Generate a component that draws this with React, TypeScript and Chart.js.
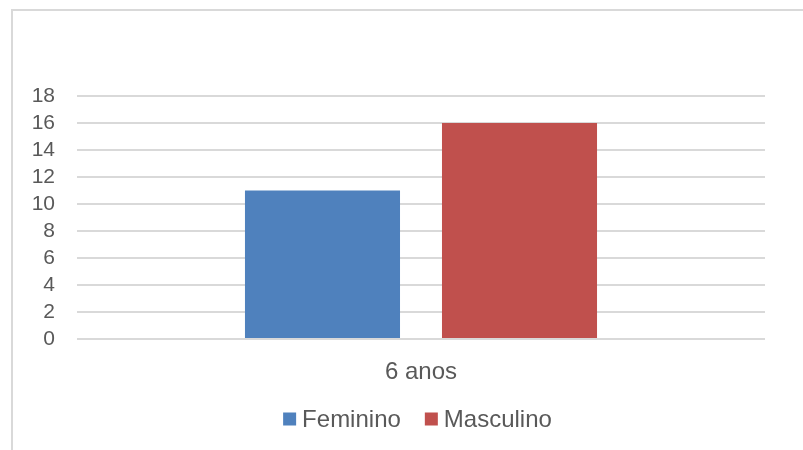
import React, { useEffect, useRef } from "react";
import { Chart, registerables } from "chart.js";

Chart.register(...registerables);

const categories: string[] = ["6 anos"];
const seriesNames: string[] = ["Feminino", "Masculino"];
const femininoValues: number[] = [11];
const masculinoValues: number[] = [16];
const seriesColors: string[] = ["#4F81BD", "#C0504D"];
const yTickMin = 0;
const yTickMax = 18;
const yTickStep = 2;

const FONT = "'Liberation Sans', Arial, sans-serif";
const TEXT_COLOR = "#595959";
const GRID_COLOR = "#D9D9D9";

const legendPlugin = {
  id: "customLegend",
  afterDraw(chart: any) {
    const ctx = chart.ctx as CanvasRenderingContext2D;
    const size = 24;
    const box = 13;
    const gapBoxText = 6;
    const gapItems = 24;
    ctx.save();
    ctx.font = `${size}px ${FONT}`;
    ctx.textBaseline = "middle";
    ctx.textAlign = "left";
    const items = chart.data.datasets.map((ds: any) => ({
      label: ds.label as string,
      color: ds.backgroundColor as string,
      w: ctx.measureText(ds.label).width,
    }));
    const total =
      items.reduce((s: number, it: any) => s + box + gapBoxText + it.w, 0) +
      gapItems * (items.length - 1);
    const cx = 417.5;
    const cy = 419;
    let x = cx - total / 2;
    for (const it of items) {
      ctx.fillStyle = it.color;
      ctx.fillRect(x, cy - box / 2, box, box);
      x += box + gapBoxText;
      ctx.fillStyle = TEXT_COLOR;
      ctx.fillText(it.label, x, cy + 1);
      x += it.w + gapItems;
    }
    ctx.restore();
  },
};

export default function App() {
  const canvasRef = useRef<HTMLCanvasElement | null>(null);

  useEffect(() => {
    if (!canvasRef.current) return;
    const chart = new Chart(canvasRef.current, {
      type: "bar",
      data: {
        labels: categories,
        datasets: [
          {
            label: seriesNames[0],
            data: femininoValues,
            backgroundColor: seriesColors[0],
            borderWidth: 0,
          },
          {
            label: seriesNames[1],
            data: masculinoValues,
            backgroundColor: seriesColors[1],
            borderWidth: 0,
          },
        ],
      },
      options: {
        responsive: false,
        animation: false,
        maintainAspectRatio: false,
        categoryPercentage: 0.5727,
        barPercentage: 0.787,
        layout: { padding: { left: 0, top: 96, right: 38, bottom: 0 } },
        plugins: {
          legend: { display: false },
          tooltip: { enabled: false },
          title: { display: false },
        },
        scales: {
          x: {
            grid: { display: false },
            border: { display: false },
            ticks: {
              color: TEXT_COLOR,
              font: { family: FONT, size: 24 },
              padding: 11,
            },
            afterFit(scale: any) {
              scale.height = 111;
            },
          },
          y: {
            min: yTickMin,
            max: yTickMax,
            grid: { color: GRID_COLOR, lineWidth: 2, drawTicks: false },
            border: { display: false },
            ticks: {
              stepSize: yTickStep,
              autoSkip: false,
              color: TEXT_COLOR,
              font: { family: FONT, size: 21, lineHeight: 1 },
              padding: 22,
            },
            afterFit(scale: any) {
              scale.width = 77;
            },
          },
        },
      } as any,
      plugins: [legendPlugin],
    });
    return () => chart.destroy();
  }, []);

  return (
    <div
      style={{
        position: "absolute",
        left: 0,
        top: 0,
        width: 803,
        height: 450,
        overflow: "hidden",
        background: "#fff",
      }}
    >
      <div
        style={{
          position: "absolute",
          left: 11,
          top: 9,
          width: 900,
          height: 600,
          border: `2px solid ${GRID_COLOR}`,
          boxSizing: "border-box",
        }}
      />
      <canvas
        ref={canvasRef}
        width={803}
        height={450}
        style={{ position: "absolute", left: 0, top: 0 }}
      />
    </div>
  );
}
